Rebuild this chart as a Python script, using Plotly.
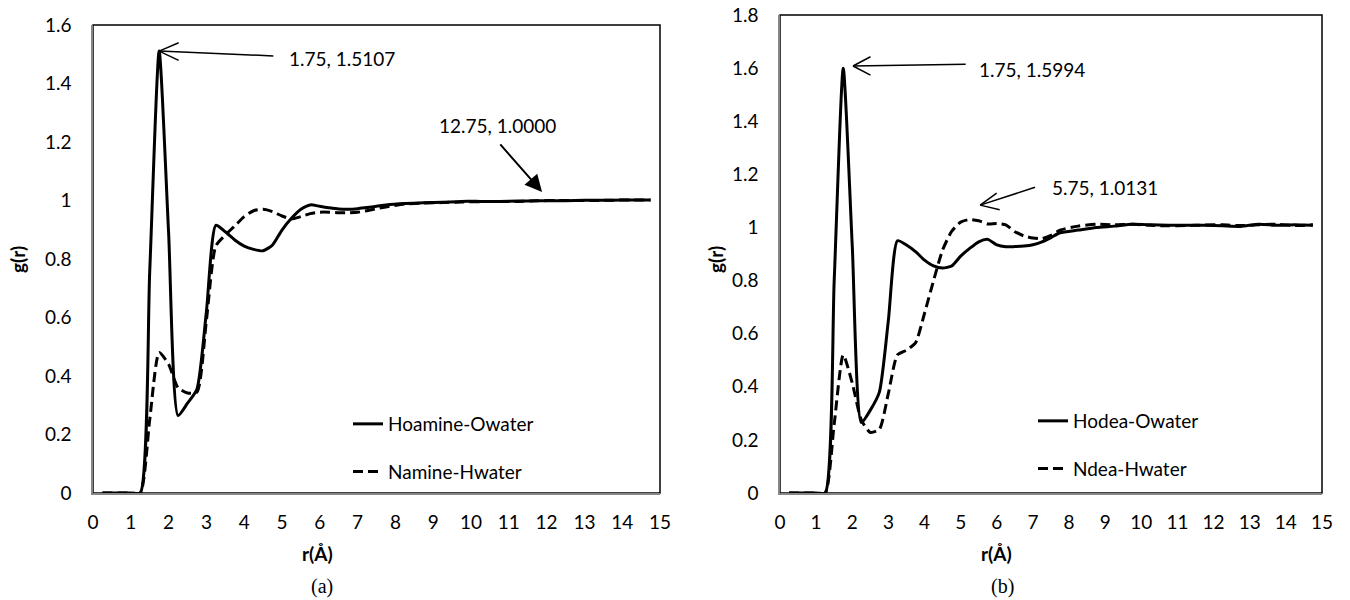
import plotly.graph_objects as go

# r grid (Å)
r = [0.25, 0.5, 0.75, 1.0, 1.25, 1.5, 1.75, 2.0, 2.25, 2.5, 2.75, 3.0, 3.25, 3.5, 3.75,
     4.0, 4.25, 4.5, 4.75, 5.0, 5.25, 5.5, 5.75, 6.0, 6.25, 6.5, 6.75, 7.0, 7.25, 7.5, 7.75,
     8.25, 8.75, 9.25, 9.75, 10.25, 10.75, 11.25, 11.75, 12.25, 12.75, 13.25, 13.75, 14.25, 14.75]

# panel (a)
hoamine_owater = [0.0, 0.0, 0.0, 0.0, 0.0, 0.755, 1.5107, 0.89, 0.265, 0.307, 0.355, 0.62, 0.915, 0.893, 0.865,
                  0.844, 0.833, 0.828, 0.848, 0.899, 0.939, 0.97, 0.985, 0.98, 0.975, 0.971, 0.97, 0.972, 0.976, 0.98, 0.985,
                  0.99, 0.992, 0.994, 0.997, 0.997, 0.997, 0.998, 0.999, 0.999, 1.0, 1.001, 1.001, 1.002, 1.002]
namine_hwater = [0.0, 0.0, 0.0, 0.0, 0.0, 0.25, 0.48, 0.44, 0.36, 0.342, 0.345, 0.59, 0.845, 0.882, 0.913,
                 0.945, 0.965, 0.97, 0.962, 0.947, 0.937, 0.945, 0.955, 0.96, 0.96, 0.958, 0.958, 0.96, 0.965, 0.972, 0.978,
                 0.988, 0.991, 0.993, 0.995, 0.996, 0.997, 0.997, 0.999, 1.0, 1.0, 1.0, 1.001, 1.002, 1.002]

# panel (b)
hodea_owater = [0.0, 0.0, 0.0, 0.0, 0.0, 0.8, 1.5994, 0.93, 0.265, 0.312, 0.38, 0.651, 0.95, 0.934, 0.909,
                0.877, 0.855, 0.847, 0.855, 0.892, 0.921, 0.946, 0.955, 0.934, 0.927, 0.928, 0.93, 0.935, 0.946, 0.962, 0.98,
                0.99, 1.0, 1.005, 1.012, 1.01, 1.008, 1.008, 1.008, 1.006, 1.004, 1.012, 1.008, 1.01, 1.008]
ndea_hwater = [0.0, 0.0, 0.0, 0.0, 0.0, 0.26, 0.52, 0.414, 0.275, 0.228, 0.24, 0.376, 0.52, 0.538, 0.565,
               0.677, 0.8, 0.915, 0.985, 1.02, 1.03, 1.025, 1.0131, 1.015, 1.01, 0.984, 0.968, 0.96, 0.958, 0.97, 0.99,
               1.005, 1.012, 1.01, 1.012, 1.008, 1.006, 1.007, 1.009, 1.01, 1.007, 1.01, 1.012, 1.007, 1.01]

x_ticks = list(range(0, 16))
ya_ticks = [0, 0.2, 0.4, 0.6, 0.8, 1, 1.2, 1.4, 1.6]
yb_ticks = [0, 0.2, 0.4, 0.6, 0.8, 1, 1.2, 1.4, 1.6, 1.8]

W, H = 1350, 600
FONT = "Lato"
FS = 19

fig = go.Figure()

line_solid = dict(color="black", width=3, shape="spline", smoothing=0.6)
line_dash = dict(color="black", width=3, shape="spline", smoothing=0.6, dash="10px,5px")

fig.add_trace(go.Scatter(x=r, y=hoamine_owater, mode="lines", name="Hoamine-Owater",
                         line=line_solid, xaxis="x", yaxis="y", legend="legend",
                         legendgroup="a1"))
fig.add_trace(go.Scatter(x=r, y=namine_hwater, mode="lines", name="Namine-Hwater",
                         line=line_dash, xaxis="x", yaxis="y", legend="legend",
                         legendgroup="a2"))
fig.add_trace(go.Scatter(x=r, y=hodea_owater, mode="lines", name="Hodea-Owater",
                         line=line_solid, xaxis="x2", yaxis="y2", legend="legend2",
                         legendgroup="b1"))
fig.add_trace(go.Scatter(x=r, y=ndea_hwater, mode="lines", name="Ndea-Hwater",
                         line=line_dash, xaxis="x2", yaxis="y2", legend="legend2",
                         legendgroup="b2"))

def px_x(p):
    return p / W

def px_y(p):
    return 1 - p / H

axis_common = dict(showgrid=False, zeroline=False, showline=True, linecolor="#868686",
                   linewidth=1.5, ticks="", automargin=False,
                   tickfont=dict(family=FONT, size=FS, color="black"))

fig.update_layout(
    width=W, height=H,
    margin=dict(l=0, r=0, t=0, b=0, pad=0, autoexpand=False),
    paper_bgcolor="white", plot_bgcolor="white",
    font=dict(family=FONT, size=FS, color="black"),
    xaxis=dict(domain=[px_x(93), px_x(660)], range=[0, 15], tickvals=x_ticks,
               anchor="y", ticklabelstandoff=11, **axis_common),
    yaxis=dict(domain=[px_y(493), px_y(25)], range=[0, 1.6], tickvals=ya_ticks,
               anchor="x", ticklabelstandoff=16, **axis_common),
    xaxis2=dict(domain=[px_x(780), px_x(1322)], range=[0, 15], tickvals=x_ticks,
                anchor="y2", ticklabelstandoff=11, **axis_common),
    yaxis2=dict(domain=[px_y(493), px_y(15)], range=[0, 1.8], tickvals=yb_ticks,
                anchor="x2", ticklabelstandoff=16, **axis_common),
    legend=dict(x=px_x(348), y=px_y(405), xanchor="left", yanchor="top",
                bgcolor="rgba(0,0,0,0)", font=dict(family=FONT, size=FS),
                traceorder="grouped", tracegroupgap=20),
    legend2=dict(x=px_x(1033), y=px_y(402), xanchor="left", yanchor="top",
                 bgcolor="rgba(0,0,0,0)", font=dict(family=FONT, size=FS),
                 traceorder="grouped", tracegroupgap=20),
    shapes=[
        dict(type="rect", xref="x domain", yref="y domain", x0=0, x1=1, y0=0, y1=1,
             line=dict(color="black", width=1.5), layer="below"),
        dict(type="rect", xref="x2 domain", yref="y2 domain", x0=0, x1=1, y0=0, y1=1,
             line=dict(color="black", width=1.5), layer="below"),
    ],
)

ann = []
# axis titles and panel labels
for xc, lab in [(317, "(a)"), (997, "(b)")]:
    ann.append(dict(x=px_x(xc), y=px_y(553), xref="paper", yref="paper", text="<b>r(Å)</b>",
                    xanchor="center", yanchor="middle",
                    showarrow=False, font=dict(family=FONT, size=FS)))
    ann.append(dict(x=px_x(xc + 5), y=px_y(586), xref="paper", yref="paper", text=lab,
                    xanchor="center", yanchor="middle",
                    showarrow=False, font=dict(family="Liberation Serif", size=20)))
for xc in [17, 715]:
    ann.append(dict(x=px_x(xc), y=px_y(260), xref="paper", yref="paper", text="<b>g(r)</b>",
                    xanchor="center", yanchor="middle",
                    textangle=-90, showarrow=False, font=dict(family=FONT, size=FS)))

line_style = dict(showarrow=True, text="", arrowcolor="black", arrowwidth=1.5, arrowhead=0)


def open_arrow(xr, yr, tip, tail, arms):
    # main shaft (data coords) plus two arm strokes forming an open V head
    out = [dict(xref=xr, yref=yr, axref=xr, ayref=yr, x=tip[0], y=tip[1],
                ax=tail[0], ay=tail[1], **line_style)]
    for dx, dy in arms:
        out.append(dict(xref=xr, yref=yr, x=tip[0], y=tip[1], ax=dx, ay=dy, **line_style))
    return out

# panel (a)
ann += open_arrow("x", "y", (1.75, 1.5107), (4.81, 1.494), [(21, -9), (21, 10)])
ann.append(dict(xref="x", yref="y", x=5.13, y=1.484, text="1.75, 1.5107", showarrow=False,
                xanchor="left", yanchor="middle", font=dict(family=FONT, size=FS)))
ann.append(dict(xref="x", yref="y", axref="x", ayref="y", x=11.88, y=1.029, ax=10.74, ay=1.197,
                showarrow=True, text="", arrowcolor="black", arrowwidth=2,
                arrowhead=2, arrowsize=1.7))
ann.append(dict(xref="x", yref="y", x=10.71, y=1.258, text="12.75, 1.0000", showarrow=False,
                xanchor="center", yanchor="middle", font=dict(family=FONT, size=FS)))
# panel (b)
ann += open_arrow("x2", "y2", (2.02, 1.608), (5.18, 1.615), [(19, -10), (19, 10)])
ann.append(dict(xref="x2", yref="y2", x=5.45, y=1.593, text="1.75, 1.5994", showarrow=False,
                xanchor="left", yanchor="middle", font=dict(family=FONT, size=FS)))
ann += open_arrow("x2", "y2", (5.54, 1.084), (7.10, 1.153), [(18, -13), (21, 5)])
ann.append(dict(xref="x2", yref="y2", x=7.47, y=1.152, text="5.75, 1.0131", showarrow=False,
                xanchor="left", yanchor="middle", font=dict(family=FONT, size=FS)))

fig.update_layout(annotations=ann)

fig.write_html("out.html")
